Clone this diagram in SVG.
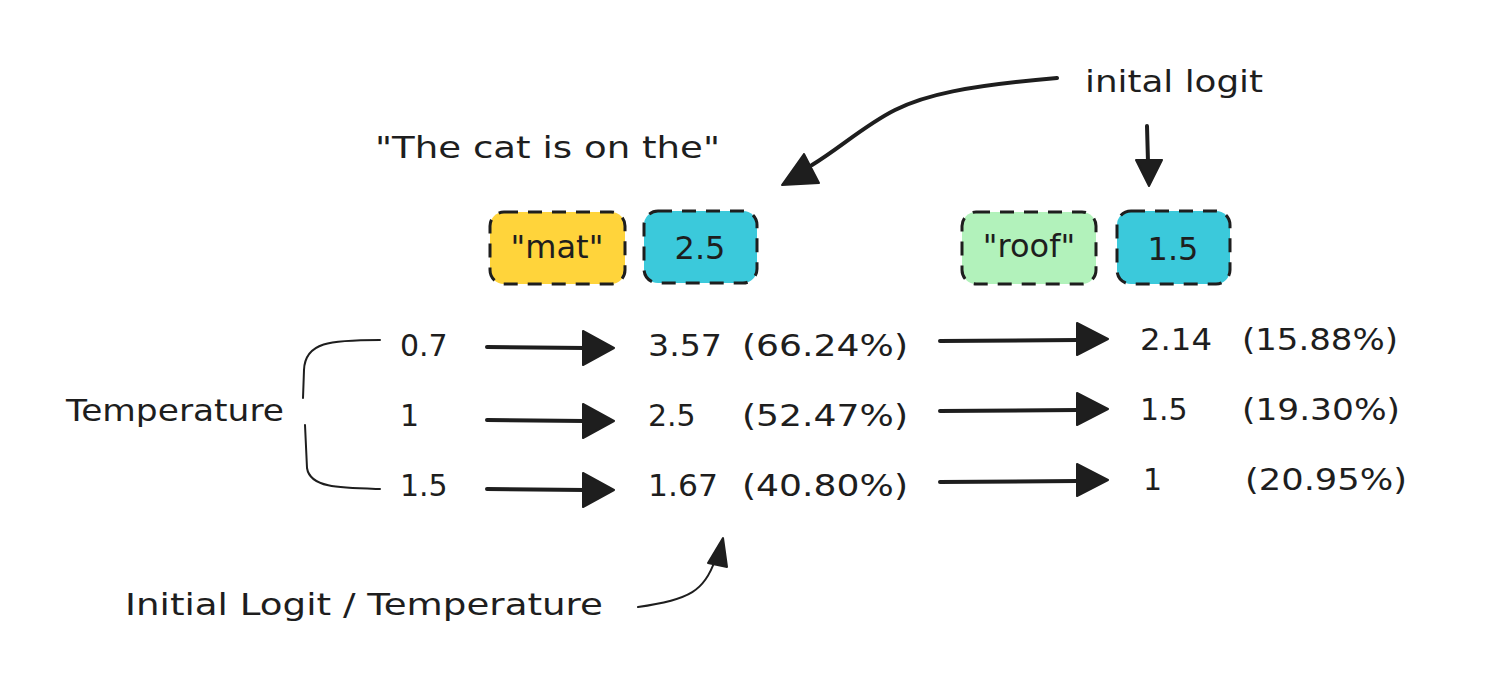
<svg xmlns="http://www.w3.org/2000/svg" width="1502" height="690" viewBox="0 0 1502 690">
<style>
text{font-family:"DejaVu Sans","Liberation Sans",sans-serif;fill:#1e1e1e;font-size:30px}
.bt{font-size:32px}
.box{stroke:#1e1e1e;stroke-width:3;stroke-dasharray:14 10}
.ln{fill:none;stroke:#1e1e1e;stroke-width:4;stroke-linecap:round}
.thin{fill:none;stroke:#1e1e1e;stroke-width:2;stroke-linecap:round}
.hd{fill:#1e1e1e;stroke:#1e1e1e;stroke-width:2;stroke-linejoin:round}
</style>
<rect width="1502" height="690" fill="#ffffff"/>
<g id="title"><text x="375" y="158" textLength="345" lengthAdjust="spacingAndGlyphs">"The cat is on the"</text></g>
<g id="node-mat"><rect class="box" x="490" y="212" width="135" height="72" rx="14" fill="#ffd43b"/><text class="bt" x="557" y="258" text-anchor="middle">"mat"</text></g>
<g id="node-mat-logit"><rect class="box" x="644" y="211" width="113" height="72" rx="14" fill="#3bc9db"/><text class="bt" x="700" y="259" text-anchor="middle">2.5</text></g>
<g id="node-roof"><rect class="box" x="962" y="212" width="134" height="72" rx="14" fill="#b2f2bb"/><text class="bt" x="1029" y="257" text-anchor="middle">"roof"</text></g>
<g id="node-roof-logit"><rect class="box" x="1117" y="211" width="113" height="73" rx="14" fill="#3bc9db"/><text class="bt" x="1173" y="260" text-anchor="middle">1.5</text></g>
<g id="label-inital"><text x="1085" y="92" textLength="178" lengthAdjust="spacingAndGlyphs">inital logit</text></g>
<g id="label-temperature"><text x="66" y="421" textLength="218" lengthAdjust="spacingAndGlyphs">Temperature</text></g>
<g id="label-formula"><text x="125" y="615" textLength="478" lengthAdjust="spacingAndGlyphs">Initial Logit / Temperature</text></g>
<g id="temps"><text x="400" y="356">0.7</text><text x="400" y="426">1</text><text x="400" y="496">1.5</text></g>
<g id="scaled-mat">
<text x="648" y="356" textLength="74" lengthAdjust="spacingAndGlyphs">3.57</text><text x="742" y="356" textLength="166" lengthAdjust="spacingAndGlyphs">(66.24%)</text>
<text x="648" y="426">2.5</text><text x="742" y="426" textLength="166" lengthAdjust="spacingAndGlyphs">(52.47%)</text>
<text x="648" y="496" textLength="70" lengthAdjust="spacingAndGlyphs">1.67</text><text x="742" y="496" textLength="166" lengthAdjust="spacingAndGlyphs">(40.80%)</text>
</g>
<g id="scaled-roof">
<text x="1140" y="350" textLength="72" lengthAdjust="spacingAndGlyphs">2.14</text><text x="1242" y="350" textLength="156" lengthAdjust="spacingAndGlyphs">(15.88%)</text>
<text x="1140" y="420">1.5</text><text x="1242" y="420" textLength="158" lengthAdjust="spacingAndGlyphs">(19.30%)</text>
<text x="1143" y="490">1</text><text x="1245" y="490" textLength="162" lengthAdjust="spacingAndGlyphs">(20.95%)</text>
</g>
<g id="connectors">
<path class="thin" d="M380 340 C330 340 305 342 304 370 L303 398"/>
<path class="thin" d="M305 425 L307 468 C310 488 340 488 380 489"/>
<path class="ln" d="M487 347 L585 348"/><polygon class="hd" points="583,331 614,348 583,365"/>
<path class="ln" d="M487 420 L585 421"/><polygon class="hd" points="583,404 614,421 583,438"/>
<path class="ln" d="M487 489 L585 490"/><polygon class="hd" points="583,473 614,490 583,507"/>
<path class="ln" d="M940 341 L1078 340"/><polygon class="hd" points="1077,323 1108,339 1077,355"/>
<path class="ln" d="M940 411 L1078 410"/><polygon class="hd" points="1077,393 1108,409 1077,425"/>
<path class="ln" d="M940 482 L1078 481"/><polygon class="hd" points="1077,464 1108,480 1077,496"/>
<path class="ln" d="M1057 78 C965 86 925 95 895 110 C865 125 840 148 812 165"/>
<polygon class="hd" points="804,154 782,185 819,183"/>
<path class="ln" d="M1147 126 L1148 162"/><polygon class="hd" points="1136,160 1149,186 1162,160"/>
<path class="thin" d="M638 607 C690 600 705 590 715 560" stroke-width="2.5"/>
<polygon class="hd" points="708,563 723,538 727,567"/>
</g>
</svg>
